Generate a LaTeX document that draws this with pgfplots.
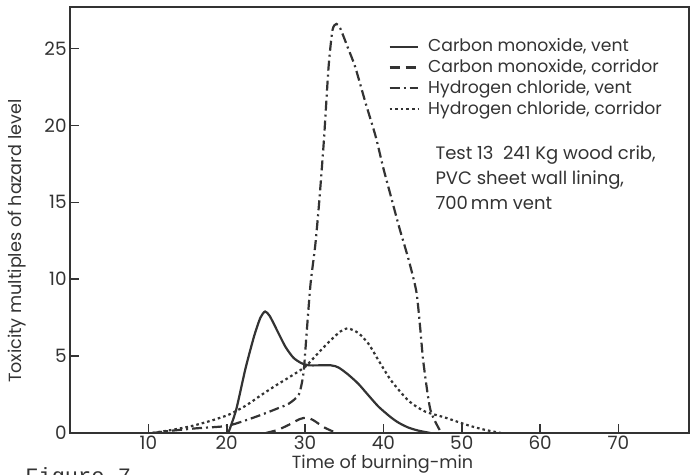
\documentclass[border=0pt]{standalone}
\usepackage{fontspec}
\setmainfont{Poppins}
\newfontfamily\monofont{Liberation Mono}
\usepackage{pgfplots}
\pgfplotsset{compat=1.18}
\usetikzlibrary{calc}
\definecolor{ink}{HTML}{333333}

\begin{document}
\begin{tikzpicture}
\begin{axis}[
    name=ax, scale only axis, width=309.5pt, height=213pt,
    xmin=0, xmax=79, ymin=0, ymax=27.7,
    xtick={10,20,...,70}, ytick={0,5,...,25},
    tick align=inside, xtick pos=bottom, ytick pos=left,
    major tick length=4.5pt,
    axis line style={ink, line width=0.8pt},
    tick style={ink, line width=0.8pt},
    ticklabel style={font=\fontsize{9.2}{10}\selectfont, text=ink},
    yticklabel style={inner sep=1.5pt},
    xticklabel style={inner sep=1.5pt},
    /pgf/number format/assume math mode=true,
    xlabel={Time of burning-min},
    ylabel={Toxicity multiples of hazard level},
    label style={font=\fontsize{8.8}{9}\selectfont, text=ink, inner sep=0pt},
    xlabel style={at={(axis description cs:0.505,-0.072)}, anchor=center},
    ylabel style={at={(axis description cs:-0.0856,0.45)}, anchor=center},
    legend style={at={(axis cs:40.6,25.8)}, anchor=north west, draw=none, fill=none,
        font=\fontsize{8.6}{9}\selectfont, text=ink, row sep=0.4pt, inner sep=0pt,
        nodes={inner sep=1pt, text height=6.5pt, text depth=1.5pt},
        /tikz/every odd column/.append style={column sep=3.5pt}},
    legend cell align=left,
    legend image code/.code={\draw[#1] (0cm,0cm) -- (0.5cm,0cm);},
    every axis plot/.append style={ink, line width=1.1pt, smooth, tension=0.4},
]
% carbon monoxide, vent
\addplot [solid] coordinates {
(20.2,0) (21.2,1.5) (22.4,4.2) (23.5,6.3) (24.3,7.5) (24.9,7.9) (25.5,7.6)
(26.5,6.6) (27.5,5.6) (28.5,4.9) (29.5,4.55) (30.5,4.4) (33.3,4.4) (34.3,4.25)
(35.5,3.8) (36.8,3.2) (38,2.5) (39.4,1.7) (41,1.0) (42,0.65) (43.2,0.35)
(44.5,0.15) (46,0)
};
\addlegendentry{Carbon monoxide, vent}
% carbon monoxide, corridor
\addplot [dash pattern=on 5pt off 3pt] coordinates {
(25,0) (26.5,0.2) (28,0.55) (29.3,0.9) (30.2,1.0) (31,0.85) (32.5,0.35) (34,0)
};
\addlegendentry{Carbon monoxide, corridor}
% hydrogen chloride, vent
\addplot [dash pattern=on 5pt off 2pt on 1pt off 2pt] coordinates {
(10.5,0) (13,0.15) (16,0.3) (19.9,0.45) (22,0.75) (24.5,1.2) (26.5,1.6)
(27.9,1.9) (29.2,2.5) (29.8,3.9) (30.2,6.5) (30.7,9.7) (31.3,12.2) (31.8,15)
(32.4,19) (33,23.8) (33.5,26.2) (34,26.6) (34.5,26.3) (35.5,25.0) (36.4,23.8)
(37.7,21.5) (39,19.3) (40,17.2) (41,15.3) (42,13.4) (43.2,11.3) (44.2,9.2)
(44.7,6.8) (45.1,4.6) (46,1.5) (47.4,0)
};
\addlegendentry{Hydrogen chloride, vent}
% hydrogen chloride, corridor
\addplot [dash pattern=on 1.3pt off 1.5pt] coordinates {
(10.5,0) (13,0.2) (15.5,0.45) (18,0.8) (20.3,1.2) (22.5,1.8) (24.5,2.5)
(26.3,3.1) (27.9,3.6) (30,4.3) (31.5,5.1) (33,5.9) (34.5,6.6) (35.5,6.8)
(36.8,6.5) (38.1,5.8) (39.4,4.7) (41,3.4) (43.2,2.1) (45.3,1.4) (47.9,1.0)
(50.8,0.5) (53,0.2) (55,0)
};
\addlegendentry{Hydrogen chloride, corridor}
\node[anchor=north west, align=left, inner sep=0pt, text=ink,
      font=\fontsize{9}{12.5}\selectfont] at (axis cs:46.6,18.7)
  {Test 13\ \ 241 Kg wood crib,\\PVC sheet\ wall lining,\\700\,mm vent};
\end{axis}
\node[anchor=north west, inner sep=0pt, text=ink, font=\monofont\fontsize{11}{12}\selectfont]
  at ($(ax.south west)+(-22.5pt,-17pt)$) {Figure 7};
\pgfresetboundingbox
\useasboundingbox ($(ax.south west)+(-35pt,-21pt)$) rectangle ($(ax.north east)+(2.5pt,3.5pt)$);
\end{tikzpicture}
\end{document}
